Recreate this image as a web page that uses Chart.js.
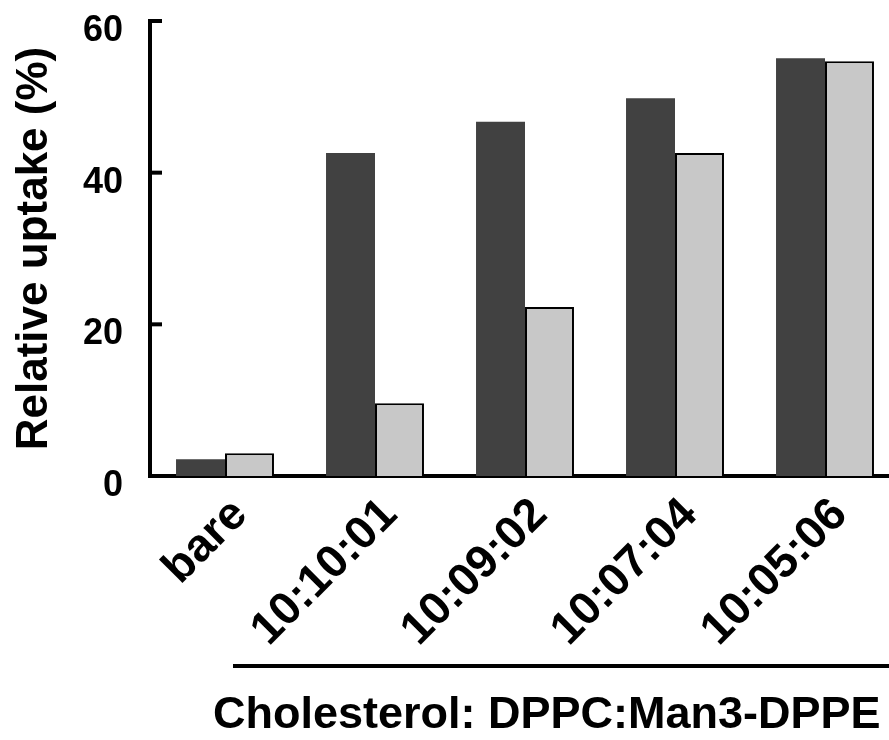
<!DOCTYPE html>
<html>
<head>
<meta charset="utf-8">
<script src="https://cdn.jsdelivr.net/npm/chart.js@4.4.0/dist/chart.umd.min.js"></script>
<style>
  html, body { margin: 0; padding: 0; background: #fff; overflow: hidden; }
  #wrap { width: 889px; height: 740px; overflow: hidden; }
</style>
</head>
<body>
<div id="wrap"><canvas id="myChart" width="900" height="740"></canvas></div>
<script>
// datos
const categorias = ['bare', '10:10:01', '10:09:02', '10:07:04', '10:05:06'];
const valoresOscuros = [2.2, 42.6, 46.7, 49.8, 55.1];
const valoresClaros = [3.0, 9.6, 22.3, 42.6, 54.7];
const ticksY = [0, 20, 40, 60];
const tituloY = 'Relative uptake (%)';
const tituloX = 'Cholesterol: DPPC:Man3-DPPE';

const fuente = '"Liberation Sans", Arial, sans-serif';
Chart.defaults.font.family = fuente;
Chart.defaults.color = '#000';

// marcas hacia dentro del eje Y + linea y texto de abajo
const extras = {
    id: 'extras',
    afterDraw(chart) {
        const ctx = chart.ctx;
        const y = chart.scales.y;
        const area = chart.chartArea;
        ctx.save();
        ctx.strokeStyle = '#000';
        ctx.lineWidth = 4;
        y.ticks.forEach(t => {
            const py = y.getPixelForValue(t.value);
            ctx.beginPath();
            ctx.moveTo(area.left - 2, py);
            ctx.lineTo(area.left + 12, py);
            ctx.stroke();
        });
        ctx.beginPath();
        ctx.moveTo(233, 666);
        ctx.lineTo(chart.width, 666);
        ctx.stroke();
        ctx.fillStyle = '#000';
        ctx.font = 'bold 45px ' + fuente;
        ctx.textAlign = 'left';
        ctx.textBaseline = 'alphabetic';
        ctx.fillText(tituloX, 213, 728);
        ctx.restore();
    }
};

const ctx = document.getElementById('myChart');

new Chart(ctx, {
    type: 'bar',
    data: {
        labels: categorias,
        datasets: [{
            data: valoresOscuros,
            backgroundColor: '#414141',
            borderWidth: 0,
            barPercentage: 1,
            categoryPercentage: 0.653
        }, {
            data: valoresClaros,
            backgroundColor: '#c8c8c8',
            borderColor: '#000',
            borderWidth: 2,
            barPercentage: 1,
            categoryPercentage: 0.653
        }]
    },
    options: {
        responsive: false,
        animation: false,
        devicePixelRatio: 1,
        layout: { padding: { top: 21, left: 0, right: 0, bottom: 0 } },
        plugins: {
            legend: { display: false },
            tooltip: { enabled: false }
        },
        scales: {
            x: {
                offset: true,
                grid: { display: false, drawTicks: false },
                border: { color: '#000', width: 4 },
                ticks: {
                    minRotation: 45,
                    maxRotation: 45,
                    padding: 12,
                    labelOffset: 15,
                    font: { size: 46, weight: 'bold' }
                },
                afterFit(scale) {
                    scale.height = 264;
                    scale.paddingLeft = 0;
                    scale.paddingRight = 0;
                }
            },
            y: {
                min: 0,
                max: 60,
                afterBuildTicks(scale) { scale.ticks = ticksY.map(v => ({ value: v })); },
                grid: { display: false, drawTicks: false },
                border: { color: '#000', width: 4 },
                ticks: {
                    padding: 27,
                    labelOffset: 10,
                    font: { size: 36, weight: 'bold' }
                },
                title: {
                    display: true,
                    text: tituloY,
                    padding: { top: 8, bottom: 0 },
                    font: { size: 44, weight: 'bold' }
                },
                afterFit(scale) {
                    scale.width = 150;
                    scale.paddingTop = 0;
                    scale.paddingBottom = 0;
                }
            }
        }
    },
    plugins: [extras]
});
</script>
</body>
</html>
